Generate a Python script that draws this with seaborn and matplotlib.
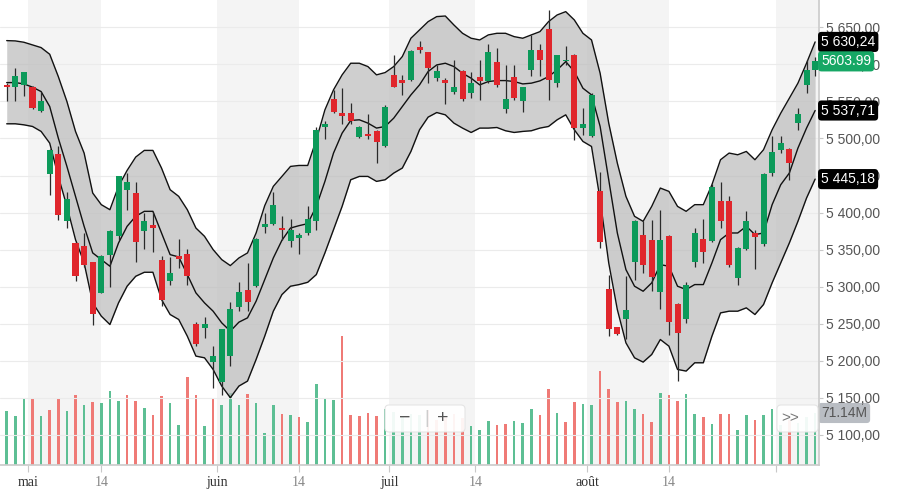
import numpy as np
import pandas as pd
import matplotlib
matplotlib.use("Agg")
import matplotlib.pyplot as plt
import seaborn as sns
from matplotlib.patches import FancyBboxPatch
from matplotlib.ticker import FuncFormatter, MultipleLocator

# daily candles, May -> early September (index = trading day)
opens = [5572, 5569, 5572, 5569, 5537, 5452, 5479, 5389, 5359, 5355,
         5333, 5292, 5343, 5368, 5430, 5427, 5375, 5383, 5336, 5308,
         5342, 5344, 5250, 5244, 5199, 5172, 5206, 5273, 5296, 5301,
         5380, 5384, 5379, 5362, 5366, 5372, 5388, 5515, 5553, 5535,
         5535, 5502, 5506, 5510, 5490, 5586, 5579, 5579, 5624, 5616,
         5582, 5579, 5563, 5591, 5561, 5583, 5577, 5603, 5540, 5583,
         5551, 5592, 5619, 5648, 5575, 5604, 5613, 5514, 5503, 5429,
         5297, 5245, 5256, 5334, 5370, 5363, 5293, 5369, 5277, 5256,
         5334, 5364, 5362, 5416, 5415, 5312, 5351, 5373, 5358, 5453,
         5485, 5486, 5521, 5572, 5593]
highs = [5575, 5595, 5590, 5571, 5563, 5486, 5490, 5428, 5360, 5372,
         5334, 5343, 5377, 5450, 5453, 5441, 5399, 5401, 5341, 5340,
         5364, 5351, 5253, 5259, 5220, 5243, 5279, 5307, 5332, 5366,
         5399, 5428, 5396, 5392, 5372, 5409, 5516, 5523, 5565, 5568,
         5548, 5517, 5533, 5511, 5545, 5613, 5586, 5620, 5631, 5617,
         5599, 5581, 5606, 5593, 5589, 5606, 5628, 5622, 5599, 5599,
         5570, 5640, 5628, 5673, 5613, 5625, 5614, 5541, 5561, 5455,
         5316, 5246, 5314, 5390, 5388, 5390, 5403, 5370, 5278, 5306,
         5379, 5391, 5438, 5441, 5422, 5353, 5402, 5377, 5453, 5503,
         5504, 5487, 5541, 5606, 5610]
lows = [5550, 5550, 5557, 5540, 5536, 5424, 5390, 5379, 5308, 5327,
        5249, 5291, 5300, 5363, 5404, 5334, 5351, 5347, 5274, 5303,
        5325, 5302, 5220, 5231, 5163, 5154, 5193, 5267, 5267, 5300,
        5372, 5383, 5363, 5354, 5344, 5370, 5377, 5499, 5534, 5520,
        5520, 5500, 5499, 5467, 5488, 5569, 5559, 5577, 5615, 5575,
        5577, 5547, 5560, 5550, 5554, 5552, 5575, 5570, 5535, 5552,
        5536, 5584, 5584, 5552, 5570, 5599, 5498, 5505, 5502, 5352,
        5233, 5235, 5229, 5309, 5318, 5294, 5270, 5235, 5173, 5251,
        5327, 5332, 5361, 5379, 5327, 5303, 5350, 5324, 5355, 5449,
        5480, 5444, 5512, 5561, 5584]
closes = [5569, 5584, 5589, 5541, 5550, 5485, 5397, 5419, 5314, 5329,
          5263, 5342, 5375, 5450, 5441, 5360, 5388, 5379, 5282, 5318,
          5337, 5314, 5223, 5250, 5207, 5243, 5270, 5293, 5279, 5364,
          5385, 5410, 5376, 5377, 5370, 5392, 5512, 5519, 5536, 5530,
          5524, 5516, 5503, 5495, 5542, 5570, 5575, 5618, 5619, 5595,
          5591, 5575, 5569, 5553, 5575, 5578, 5616, 5572, 5553, 5554,
          5569, 5619, 5606, 5579, 5613, 5605, 5514, 5519, 5559, 5360,
          5243, 5236, 5269, 5389, 5329, 5313, 5363, 5252, 5238, 5303,
          5372, 5347, 5435, 5389, 5329, 5352, 5389, 5367, 5452, 5482,
          5494, 5467, 5533, 5593, 5603.99]
# volume in millions
volumes = [73.9, 67.0, 90.3, 90.3, 67.0, 75.2, 92.1, 73.9, 95.8, 82.1,
           86.6, 85.3, 101.2, 87.6, 95.8, 87.6, 77.5, 68.4, 94.4, 84.4,
           54.7, 120.8, 95.8, 53.8, 90.3, 82.1, 98.0, 82.1, 96.7, 84.4,
           44.2, 82.1, 69.8, 68.4, 66.1, 58.4, 110.4, 92.1, 88.9, 176.5,
           68.4, 67.0, 70.7, 67.0, 76.2, 72.0, 65.0, 70.0, 68.0, 75.0,
           62.0, 66.0, 70.0, 64.0, 52.9, 47.4, 59.7, 55.2, 55.6, 59.7,
           57.5, 76.6, 68.4, 104.0, 70.7, 59.3, 86.6, 83.0, 82.1, 129.0,
           104.0, 86.6, 87.6, 76.6, 69.3, 59.3, 98.0, 95.8, 87.6, 96.7,
           69.3, 66.1, 55.6, 69.3, 69.3, 47.9, 68.4, 61.6, 68.4, 76.6,
           55.0, 62.0, 58.0, 66.0, 71.14]
# bollinger bands as drawn
bb_upper = [5632.0, 5631.6, 5629.8, 5626.2, 5622.6, 5613.6, 5583.5, 5549.9, 5509.5, 5480.3,
            5426.4, 5410.7, 5403.9, 5435.4, 5456.9, 5474.9, 5483.9, 5483.9, 5460.1, 5430.9,
            5421.9, 5403.9, 5379.2, 5368.0, 5350.1, 5336.6, 5328.5, 5338.8, 5345.6, 5372.5,
            5409.3, 5435.4, 5448.8, 5462.3, 5463.6, 5463.6, 5498.2, 5538.6, 5565.6, 5585.8,
            5601.5, 5601.5, 5597.0, 5585.8, 5588.9, 5597.0, 5610.5, 5635.2, 5646.4, 5657.6,
            5664.4, 5665.2, 5653.1, 5641.9, 5635.2, 5632.9, 5639.7, 5641.9, 5641.9, 5637.4,
            5635.2, 5639.7, 5644.1, 5657.6, 5666.6, 5671.1, 5659.9, 5641.9, 5632.9, 5588.0,
            5520.7, 5466.8, 5421.9, 5395.0, 5388.2, 5408.4, 5433.1, 5428.6, 5408.4, 5401.7,
            5410.7, 5410.7, 5437.6, 5471.3, 5480.3, 5478.0, 5482.5, 5471.3, 5484.8, 5511.7,
            5534.1, 5554.3, 5574.6, 5601.5, 5630.24]
bb_mid = [5575.4, 5575.4, 5573.6, 5569.2, 5563.3, 5543.1, 5500.5, 5462.3, 5421.9, 5381.5,
          5345.6, 5336.6, 5327.6, 5359.0, 5381.5, 5395.0, 5401.7, 5401.7, 5372.5, 5343.3,
          5340.2, 5316.4, 5291.7, 5278.2, 5267.0, 5251.3, 5240.1, 5252.2, 5258.0, 5280.5,
          5309.6, 5338.8, 5362.6, 5379.2, 5382.4, 5385.1, 5408.4, 5442.1, 5480.3, 5507.2,
          5524.3, 5525.2, 5520.7, 5514.0, 5516.2, 5527.4, 5543.1, 5558.8, 5572.3, 5590.3,
          5599.2, 5601.5, 5597.0, 5588.0, 5581.3, 5572.3, 5576.8, 5578.1, 5578.1, 5576.8,
          5573.6, 5574.6, 5577.7, 5583.5, 5592.5, 5603.7, 5590.3, 5567.8, 5558.8, 5516.2,
          5444.3, 5372.5, 5323.1, 5300.7, 5293.9, 5305.2, 5329.8, 5327.6, 5300.7, 5296.2,
          5302.9, 5302.9, 5332.1, 5363.5, 5372.5, 5372.5, 5381.5, 5370.3, 5372.5, 5410.7,
          5437.6, 5453.3, 5487.0, 5514.0, 5537.71]
bb_lower = [5519.8, 5519.8, 5518.4, 5516.2, 5509.5, 5493.7, 5448.8, 5408.4, 5363.5, 5332.1,
            5278.2, 5260.3, 5249.0, 5278.2, 5300.7, 5314.1, 5319.5, 5319.5, 5282.7, 5262.5,
            5255.8, 5233.3, 5206.4, 5204.1, 5188.4, 5166.0, 5150.3, 5166.0, 5172.7, 5201.9,
            5233.3, 5267.0, 5289.4, 5300.7, 5302.9, 5306.0, 5316.4, 5345.6, 5377.0, 5408.4,
            5444.3, 5448.8, 5448.8, 5442.1, 5444.3, 5453.3, 5460.1, 5482.5, 5511.7, 5528.8,
            5535.0, 5531.9, 5520.7, 5514.0, 5508.1, 5514.0, 5514.0, 5514.8, 5510.4, 5508.1,
            5509.5, 5510.4, 5514.0, 5516.2, 5525.2, 5531.9, 5511.7, 5496.0, 5489.2, 5417.4,
            5332.1, 5269.2, 5224.3, 5204.1, 5198.3, 5208.6, 5228.8, 5219.8, 5188.4, 5186.2,
            5197.4, 5197.4, 5233.3, 5264.7, 5267.0, 5267.0, 5271.5, 5262.5, 5276.0, 5305.2,
            5332.1, 5359.0, 5388.2, 5419.6, 5445.18]

# x axis ticks (month starts and the 14th), in trading-day index units
tick_pos = [2.5, 11, 24.5, 34, 44.5, 54.5, 67.5, 77, 89.5]
tick_labels = ["mai", "14", "juin", "14", "juil", "14", "août", "14", ""]

df = pd.DataFrame({"open": opens, "high": highs, "low": lows, "close": closes,
                   "volume": volumes, "upper": bb_upper, "mid": bb_mid, "lower": bb_lower})
df["idx"] = np.arange(len(df))

sns.set_theme(style="white")
plt.rcParams["font.family"] = ["Liberation Sans", "DejaVu Sans"]

GREEN, RED = "#0c9a5a", "#e0262c"
VOL_GREEN, VOL_RED = "#5dbf94", "#ef7a76"
XMIN, XMAX = -0.78, 94.45


def fr(v, pos=None):
    return f"{v:,.2f}".replace(",", " ").replace(".", ",")


fig = plt.figure(figsize=(8.99, 4.91), dpi=100)
axv = fig.add_axes([0, 26 / 491, 819 / 899, 465 / 491])
ax = axv.twinx()

# shaded first half of each month
starts = tick_pos[0::2]
ends = tick_pos[1::2] + [XMAX + 1]
for a, b in zip(starts, ends):
    axv.axvspan(a, b, color="#f4f4f4", lw=0, zorder=0)

# volume
vol_up = df["close"].diff().fillna(1) >= 0
axv.bar(df["idx"], df["volume"], width=0.3, lw=0, zorder=2,
        color=np.where(vol_up, VOL_GREEN, VOL_RED))
axv.set_ylim(0, 636)
axv.set_yticks([])
axv.set_xlim(XMIN, XMAX)
axv.set_xticks(tick_pos)
axv.set_xticklabels(tick_labels)
axv.tick_params(axis="x", bottom=True, length=5, width=0.8, color="#c8c8c8", pad=3)
for lbl in axv.get_xticklabels():
    lbl.set_fontfamily("Liberation Serif")
    lbl.set_fontsize(10)
    lbl.set_color("#888888" if lbl.get_text() == "14" else "#333333")
for name, sp in axv.spines.items():
    sp.set_visible(name == "bottom")
axv.spines["bottom"].set_color("#cccccc")

# bollinger band
ax.fill_between(df["idx"], df["lower"], df["upper"], color="#bdbdbd", alpha=0.72, lw=0, zorder=1)
for col in ["upper", "mid", "lower"]:
    sns.lineplot(data=df, x="idx", y=col, ax=ax, color="#111111", linewidth=1.0, zorder=2)

# candles
up = df["close"] >= df["open"]
body_bottom = df[["open", "close"]].min(axis=1)
body_h = (df["close"] - df["open"]).abs().clip(lower=1.5)
ax.vlines(df["idx"], df["low"], df["high"], color="#2a2a2a", lw=0.9, zorder=3)
ax.bar(df["idx"], body_h, bottom=body_bottom, width=0.7, lw=0, zorder=4,
       color=np.where(up, GREEN, RED))

ax.set_xlim(XMIN, XMAX)
ax.set_ylim(5059.5, 5686.8)
ax.set_xlabel("")
ax.set_ylabel("")
ax.yaxis.set_major_locator(MultipleLocator(50))
ax.yaxis.set_major_formatter(FuncFormatter(fr))
ax.grid(axis="y", color="#ebebeb", lw=0.8)
ax.grid(axis="x", visible=False)
ax.set_axisbelow(True)
ax.tick_params(axis="y", right=True, left=False, labelright=True, labelleft=False,
               length=3, width=0.8, color="#c8c8c8", labelcolor="#555555",
               labelsize=10, pad=2)
for name, sp in ax.spines.items():
    sp.set_visible(name == "right")
ax.spines["right"].set_color("#cccccc")


def tag(axis, value, text, fc, tc):
    axis.annotate(text, xy=(1, value), xycoords=("axes fraction", "data"),
                  xytext=(1.5, 0), textcoords="offset points", ha="left", va="center",
                  fontsize=10, color=tc, annotation_clip=False, zorder=10,
                  bbox=dict(boxstyle="round,pad=0.22,rounding_size=0.25", fc=fc, ec="none"))


tag(ax, bb_upper[-1], fr(bb_upper[-1]), "black", "white")
tag(ax, closes[-1], f"{closes[-1]:.2f}", "#16a765", "white")
tag(ax, bb_mid[-1], fr(bb_mid[-1]), "black", "white")
tag(ax, bb_lower[-1], fr(bb_lower[-1]), "black", "white")
tag(axv, volumes[-1], f"{volumes[-1]:.2f}M", "#b9bdc3", "#555555")

# chart controls overlay
H = 4.91
for x0, w in [(3.85, 0.80), (7.77, 0.41)]:
    fig.patches.append(FancyBboxPatch((x0, H - 4.32), w, 0.27,
                                      boxstyle="round,pad=0,rounding_size=0.04",
                                      transform=fig.dpi_scale_trans, fc="white",
                                      ec="#e3e3e3", lw=0.8, alpha=0.92, zorder=20))
fig.text(4.05, H - 4.185, "\u2212", transform=fig.dpi_scale_trans, ha="center", va="center",
         fontsize=14, color="#555555", zorder=21)
fig.text(4.27, H - 4.185, "|", transform=fig.dpi_scale_trans, ha="center", va="center",
         fontsize=13, color="#cccccc", zorder=21)
fig.text(4.43, H - 4.185, "+", transform=fig.dpi_scale_trans, ha="center", va="center",
         fontsize=14, color="#555555", zorder=21)
fig.text(7.90, H - 4.185, ">>", transform=fig.dpi_scale_trans, ha="center", va="center",
         fontsize=11, color="#777777", zorder=21)

fig.savefig("out.png", dpi=100)
